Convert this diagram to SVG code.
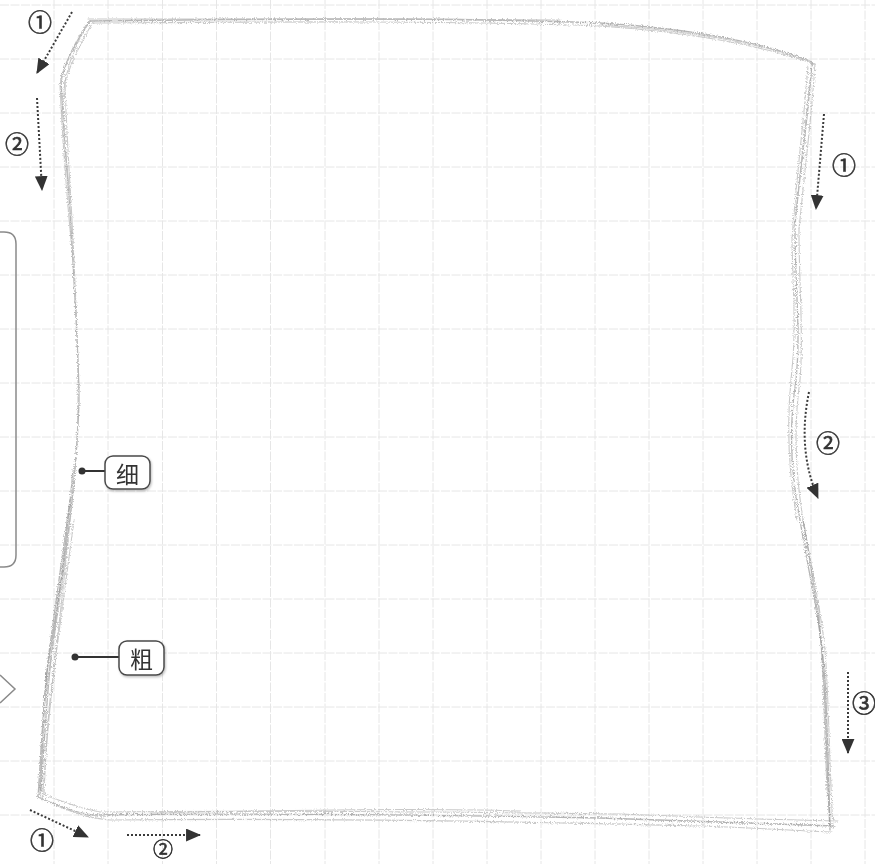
<svg xmlns="http://www.w3.org/2000/svg" width="875" height="864" viewBox="0 0 875 864">
<defs>
<style>
.grid line{stroke:#e6e6e6;stroke-width:1;stroke-dasharray:9 1.5}
.pen{fill:none;stroke:#9c9c9c;stroke-width:1.3;stroke-linecap:round;stroke-linejoin:round;opacity:.75}
.pen2{fill:none;stroke:#bcbcbc;stroke-width:1.1;stroke-linecap:round;opacity:.8}
.arr{fill:none;stroke:#3a3a3a;stroke-width:2;stroke-dasharray:2 2;marker-end:url(#ah)}
.num{font-family:"Noto Sans CJK SC","DejaVu Sans",sans-serif;font-size:24px;fill:#333;stroke:#333;stroke-width:0.6;text-anchor:middle;dominant-baseline:central}
.lbl rect{fill:#fff;stroke:#4a4a4a;stroke-width:1.5;filter:url(#sh)}
.lbl text{font-family:"Noto Sans CJK SC",sans-serif;font-size:23px;fill:#333;text-anchor:middle;dominant-baseline:central}
.lead{stroke:#333;stroke-width:2}
.side{fill:none;stroke:#8a8a8a;stroke-width:1.5}
</style>
<marker id="ah" viewBox="0 0 14 12" refX="13" refY="6" markerWidth="15" markerHeight="13" markerUnits="userSpaceOnUse" orient="auto"><path d="M0,0 L14,6 L0,12 z" fill="#333"/></marker>
<filter id="pencil" x="-5%" y="-5%" width="110%" height="110%"><feTurbulence type="fractalNoise" baseFrequency="0.9" numOctaves="2" seed="3" result="n"/><feDisplacementMap in="SourceGraphic" in2="n" scale="4" xChannelSelector="R" yChannelSelector="G"/></filter>
<filter id="sh" x="-20%" y="-20%" width="150%" height="150%"><feDropShadow dx="1" dy="1.5" stdDeviation="1.2" flood-color="#000" flood-opacity=".25"/></filter>
</defs>
<rect width="875" height="864" fill="#fff"/>
<g class="grid" id="grid">
<line x1="54" y1="0" x2="54" y2="864"/><line x1="108" y1="0" x2="108" y2="864"/><line x1="162.5" y1="0" x2="162.5" y2="864"/><line x1="216.5" y1="0" x2="216.5" y2="864"/><line x1="270.5" y1="0" x2="270.5" y2="864"/><line x1="325" y1="0" x2="325" y2="864"/><line x1="379" y1="0" x2="379" y2="864"/><line x1="433" y1="0" x2="433" y2="864"/><line x1="487" y1="0" x2="487" y2="864"/><line x1="541" y1="0" x2="541" y2="864"/><line x1="595" y1="0" x2="595" y2="864"/><line x1="649" y1="0" x2="649" y2="864"/><line x1="703" y1="0" x2="703" y2="864"/><line x1="757" y1="0" x2="757" y2="864"/><line x1="811" y1="0" x2="811" y2="864"/><line x1="865" y1="0" x2="865" y2="864"/>
<line x1="0" y1="5" x2="875" y2="5"/><line x1="0" y1="59" x2="875" y2="59"/><line x1="0" y1="113" x2="875" y2="113"/><line x1="0" y1="167" x2="875" y2="167"/><line x1="0" y1="221" x2="875" y2="221"/><line x1="0" y1="275" x2="875" y2="275"/><line x1="0" y1="329" x2="875" y2="329"/><line x1="0" y1="383" x2="875" y2="383"/><line x1="0" y1="437" x2="875" y2="437"/><line x1="0" y1="491" x2="875" y2="491"/><line x1="0" y1="545" x2="875" y2="545"/><line x1="0" y1="599" x2="875" y2="599"/><line x1="0" y1="653" x2="875" y2="653"/><line x1="0" y1="707" x2="875" y2="707"/><line x1="0" y1="761" x2="875" y2="761"/><line x1="0" y1="815" x2="875" y2="815"/>
</g>
<g id="side-shapes">
<path class="side" d="M0,232 H4 Q16,232 16,244 V555 Q16,567 4,567 H0"/>
<path class="side" d="M0,675 L15,689 L0,703" stroke="#555"/>
</g>
<g id="sketch" filter="url(#pencil)">
<path class="pen" d="M90,21 C250,19 450,17 600,23 C700,29 770,45 812,62"/>
<path class="pen2" d="M93,23 C250,22 450,20 600,26 C705,33 772,49 815,64"/>
<path class="pen2" d="M88,19 C200,18 400,19 560,20"/>
<path class="pen2" d="M600,25 C690,30 760,44 808,60"/>
<path class="pen" d="M90,21 C80,35 68,55 61,78 C62,110 66,160 70,210 C74,280 79,360 79,400 C78,440 75,470 72,500 C66,560 54,620 46,680 C42,730 40,770 38,797"/>
<path class="pen2" d="M93,22 C82,40 72,60 65,82 C66,120 69,170 72,220 C76,300 80,380 77,440 C74,490 70,520 66,560 C60,620 52,680 47,740 C45,770 43,790 42,800"/>
<path class="pen2" d="M86,25 C76,40 66,60 60,85 C62,130 66,190 73,260"/>
<path class="pen2" d="M84,30 C74,48 66,68 63,95 C64,140 68,180 71,200"/>
<path class="pen" d="M73,470 C68,530 60,590 52,650 C46,700 44,750 41,790"/>
<path class="pen" d="M70,500 C62,560 55,610 48,660 C43,710 42,760 40,795"/>
<path class="pen2" d="M74,520 C66,580 58,640 50,700 C46,740 45,770 44,795"/>
<path class="pen2" d="M68,540 C60,600 52,650 45,700 C41,740 40,770 39,790"/>
<path class="pen" d="M38,797 C55,805 72,812 92,815 C250,813 450,815 600,818 C700,821 780,824 835,826"/>
<path class="pen2" d="M40,793 C60,801 78,808 100,812 C260,810 460,812 620,814 C720,818 790,820 838,821"/>
<path class="pen2" d="M45,800 C65,810 85,818 110,820 C300,818 500,821 700,826 C760,828 800,831 832,832"/>
<path class="pen2" d="M150,813 C300,810 420,808 520,811"/>
<path class="pen" d="M812,62 C809,110 800,170 795,225 C795,290 801,330 796,380 C788,430 792,480 800,520 C808,570 818,610 822,650 C826,700 826,760 830,830"/>
<path class="pen2" d="M815,64 C812,115 804,175 799,230 C799,290 804,335 800,380 C793,430 796,480 804,525 C812,570 821,610 825,650 C829,700 829,760 833,828"/>
<path class="pen2" d="M808,66 C804,120 796,180 792,240 C793,300 797,330 791,380 C786,430 790,480 797,520"/>
<path class="pen2" d="M818,600 C823,650 824,720 827,790"/>
<path class="pen" d="M803,520 C812,570 820,620 825,680 C828,740 829,790 830,826"/>
<path class="pen2" d="M810,80 C805,130 799,180 796,215"/>
</g>
<g id="connectors">
<path class="arr" d="M72,12 L37,73"/>
<path class="arr" d="M37,98 L42,190"/>
<path class="arr" d="M824,114 L816,209"/>
<path class="arr" d="M809,392 Q797,450 818,498"/>
<path class="arr" d="M848,672 L848,753"/>
<path class="arr" d="M30,810 L88,837"/>
<path class="arr" d="M127,835 L200,835"/>
</g>
<g id="numbers">
<text class="num" x="40" y="20">①</text>
<text class="num" x="17" y="142">②</text>
<text class="num" x="844" y="163">①</text>
<text class="num" x="828" y="441">②</text>
<text class="num" x="864" y="701">③</text>
<text class="num" x="42" y="838">①</text>
<text class="num" x="163" y="848" style="font-size:20px">②</text>
</g>
<g id="label-thin" class="lbl">
<line class="lead" x1="82" y1="471" x2="105" y2="471"/>
<circle cx="82" cy="471" r="3.5" fill="#333"/>
<rect x="105" y="456" width="45" height="33" rx="8"/>
<text x="127.5" y="472.5">细</text>
</g>
<g id="label-thick" class="lbl">
<line class="lead" x1="75" y1="657" x2="119" y2="657"/>
<circle cx="75" cy="657" r="3.5" fill="#333"/>
<rect x="119" y="641" width="45" height="34" rx="8"/>
<text x="141.5" y="658">粗</text>
</g>
</svg>
